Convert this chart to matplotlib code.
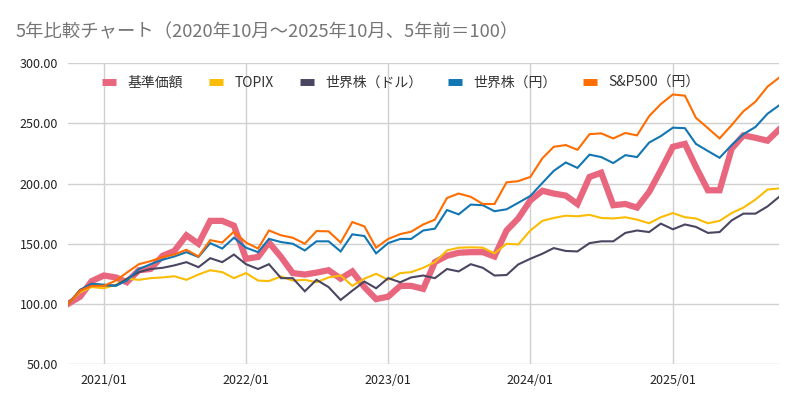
import numpy as np
import pandas as pd
import matplotlib
matplotlib.use('Agg')
import matplotlib.pyplot as plt
import matplotlib.dates as mdates
from matplotlib.ticker import FormatStrFormatter

plt.rcParams['font.family'] = ['Noto Sans CJK JP', 'DejaVu Sans']

# 月次（2020/10〜2025/10）
months = pd.date_range('2020-10-01', '2025-10-01', freq='MS')

kijun = [100, 106, 119, 123.6, 122, 118, 128, 129, 140, 144, 157, 150, 169, 169, 165,
         137.5, 139, 151, 139, 125.6, 124.4, 126, 128, 121, 127, 114, 104, 106, 115,
         115, 112.5, 134.7, 140, 142.5, 143, 143, 139.4, 161, 171, 186, 194, 191.7,
         190, 183, 205.5, 209, 182, 183, 180, 193, 211, 230.5, 233, 214, 194.4, 194.4,
         229, 240, 238, 235.6, 245]
topix = [100, 109.7, 114, 113, 116, 121, 120, 121.4, 122, 123, 120, 124.4, 128, 126.4,
         121.4, 125.6, 119.4, 119, 122.8, 119.4, 120, 118, 122, 123.6, 115, 121, 125,
         120, 125.6, 126.4, 130, 134.7, 144.4, 146.7, 147, 146.7, 142, 150, 149.4, 161,
         169, 171.4, 173.3, 172.8, 174, 171.4, 171, 172, 170, 167, 172, 175.5, 172, 171,
         167, 169, 175.5, 180, 186.7, 195, 196]
world_usd = [100, 111.7, 116.7, 115.3, 115.3, 120.8, 126.4, 129, 130, 132, 134.7, 130.5,
             138, 134.7, 141, 133, 129, 133, 121.4, 121.4, 110.5, 120, 114, 103.3, 111,
             118.6, 113, 121.4, 118, 122, 123.6, 121.4, 129, 127, 133, 130, 123.6, 124,
             132.8, 137.5, 141.7, 146.4, 144, 143.6, 150.5, 152, 152, 159, 161, 159.7,
             166.7, 162, 166, 164, 159, 159.7, 169.4, 175, 175, 181, 189]
world_jpy = [100, 111, 116.7, 116, 115, 119.4, 129, 133, 136.7, 139.4, 143, 139, 150.5,
             146, 155, 146.7, 143, 154, 151.4, 150, 144.4, 152, 152, 143.6, 157.8, 156.4,
             142, 150.5, 154, 154, 161, 162.5, 178, 174.4, 182.5, 182, 177, 178.6, 184,
             189.7, 200.5, 210.5, 217.5, 213, 224, 222, 217, 223.6, 222, 234, 239.4, 246.4,
             246, 233, 227, 221.4, 232, 241, 247, 258, 265]
sp500_jpy = [100, 111, 115, 115, 119.4, 126, 133, 135.5, 139, 141, 145, 139.4, 153, 151,
             160, 151, 146, 161, 157, 155, 150, 160.5, 160.3, 151, 168, 164.4, 146.7, 154,
             158, 160, 166, 170, 188, 191.7, 189, 183, 183, 201, 202, 205.5, 221, 230.5,
             232, 228, 241, 241.7, 237.5, 242, 240, 256, 266, 274, 273, 254.7, 246, 237.5,
             248.6, 260, 268, 280.5, 288]

names = ['基準価額', 'TOPIX', '世界株（ドル）', '世界株（円）', 'S&P500（円）']
colors = ['#E8677E', '#FBBC04', '#4A4560', '#1276B3', '#FF6D00']
series = [kijun, topix, world_usd, world_jpy, sp500_jpy]
widths = [4.5, 1.5, 1.5, 1.5, 1.5]

fig = plt.figure(figsize=(8, 4.05), dpi=100)
ax = fig.add_axes([0.085, 0.101, 0.889, 0.743])

for vals, name, c, lw in zip(series, names, colors, widths):
    ax.plot(months, vals, color=c, lw=lw, label=name, solid_joinstyle='miter')

ax.set_xlim(months[0], months[-1])
ax.set_ylim(50, 300)
ax.set_yticks(np.arange(50, 301, 50))
ax.yaxis.set_major_formatter(FormatStrFormatter('%.2f'))
ax.xaxis.set_major_locator(mdates.MonthLocator(bymonth=1))
ax.xaxis.set_major_formatter(mdates.DateFormatter('%Y/%m'))

ax.grid(True, color='#d0d0d0', lw=1)
ax.set_axisbelow(True)
for s in ax.spines.values():
    s.set_visible(False)
ax.tick_params(length=0, labelsize=9, colors='#222222', pad=7)

leg = ax.legend(loc='upper center', bbox_to_anchor=(0.468, 1.0), ncol=5, frameon=False,
                fontsize=10, handlelength=1.0, handleheight=0.4, columnspacing=1.9,
                handletextpad=0.8, labelcolor='#333333')
for h in leg.get_lines():
    h.set_linewidth(5)
    h.set_solid_capstyle('butt')

fig.text(0.019, 0.92, '5年比較チャート（2020年10月～2025年10月、5年前＝100）',
         fontsize=13.2, color='#757575', va='center', ha='left')

fig.savefig('out.png', dpi=100, facecolor='white')
